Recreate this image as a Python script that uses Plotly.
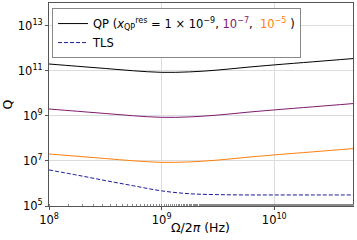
import plotly.graph_objects as go

freq = [1e8, 1.78e8, 3.16e8, 5.62e8, 1e9, 1.78e9, 3.16e9, 5.62e9, 1e10, 2.24e10, 5e10]
q_qp_1e9 = [2.04e11, 1.62e11, 1.29e11, 1.02e11, 8.7e10, 9.1e10, 1.10e11, 1.45e11, 1.86e11, 2.57e11, 3.55e11]
q_qp_1e7 = [2.04e9, 1.62e9, 1.29e9, 1.02e9, 8.7e8, 9.1e8, 1.10e9, 1.45e9, 1.86e9, 2.57e9, 3.55e9]
q_qp_1e5 = [2.04e7, 1.62e7, 1.29e7, 1.02e7, 8.7e6, 9.1e6, 1.10e7, 1.45e7, 1.86e7, 2.57e7, 3.55e7]
q_tls = [4.0e6, 2.35e6, 1.35e6, 7.9e5, 4.7e5, 3.5e5, 3.2e5, 3.1e5, 3.1e5, 3.1e5, 3.1e5]

xtick_vals = [1e8, 1e9, 1e10]
xtick_text = ["10<sup>8</sup>", "10<sup>9</sup>", "10<sup>10</sup>"]
ytick_vals = [1e5, 1e7, 1e9, 1e11, 1e13]
ytick_text = ["10<sup>5</sup>", "10<sup>7</sup>", "10<sup>9</sup>", "10<sup>11</sup>", "10<sup>13</sup>"]

BLACK = "#000000"
PURPLE = "#7f1a6e"
ORANGE = "#ff7f0e"
BLUE = "#1a1a9a"

qp_name = ("QP (<i>x</i><sub>QP</sub><sup>res</sup> = 1 × 10<sup>−9</sup>, "
           f"<span style='color:{PURPLE}'>10<sup>−7</sup></span>, "
           f"<span style='color:{ORANGE}'> 10<sup>−5</sup></span> )")

fig = go.Figure()
fig.add_trace(go.Scatter(x=freq, y=q_qp_1e9, mode="lines", line=dict(color=BLACK, width=1, shape="spline"),
                         name=qp_name))
fig.add_trace(go.Scatter(x=freq, y=q_qp_1e7, mode="lines", line=dict(color=PURPLE, width=1, shape="spline"),
                         showlegend=False))
fig.add_trace(go.Scatter(x=freq, y=q_qp_1e5, mode="lines", line=dict(color=ORANGE, width=1, shape="spline"),
                         showlegend=False))
fig.add_trace(go.Scatter(x=freq, y=q_tls, mode="lines", line=dict(color=BLUE, width=1, dash="4px,2px", shape="spline"),
                         name="TLS"))

font = "DejaVu Sans"
fig.update_layout(
    width=357, height=240,
    margin=dict(l=49, r=4, t=3, b=34),
    plot_bgcolor="white", paper_bgcolor="white",
    font=dict(family=font, size=11, color="black"),
    showlegend=True,
    legend=dict(x=0.01, y=0.975, xanchor="left", yanchor="top",
                bgcolor="white", bordercolor="#888888", borderwidth=1,
                font=dict(size=11.5), tracegroupgap=0, itemwidth=30),
    xaxis=dict(type="log", range=[8, 10.699], tickvals=xtick_vals, ticktext=xtick_text,
               showgrid=True, gridcolor="#dcdcdc", gridwidth=1,
               showline=True, linecolor="#555555", mirror=True,
               ticks="outside", ticklen=3, tickcolor="#555555",
               tickfont=dict(size=11.5),
               minor=dict(ticks="inside", ticklen=2, tickcolor="#888888", showgrid=False),
               zeroline=False),
    yaxis=dict(type="log", range=[5, 14.02], tickvals=ytick_vals, ticktext=ytick_text,
               showgrid=True, gridcolor="#dcdcdc", gridwidth=1,
               showline=True, linecolor="#555555", mirror=True,
               ticks="outside", ticklen=3, tickcolor="#555555",
               tickfont=dict(size=11.5),
               title=dict(text="Q", font=dict(size=12.5), standoff=6),
               zeroline=False),
    annotations=[dict(text="Ω/2<i>π</i> (Hz)", xref="paper", yref="paper",
                      x=0.497, y=-0.108, xanchor="center", yanchor="middle",
                      showarrow=False, font=dict(size=12.5))],
)

fig.write_html("out.html", config={"displayModeBar": False},
               post_script="document.body.style.margin='0';document.body.style.overflow='hidden';")
